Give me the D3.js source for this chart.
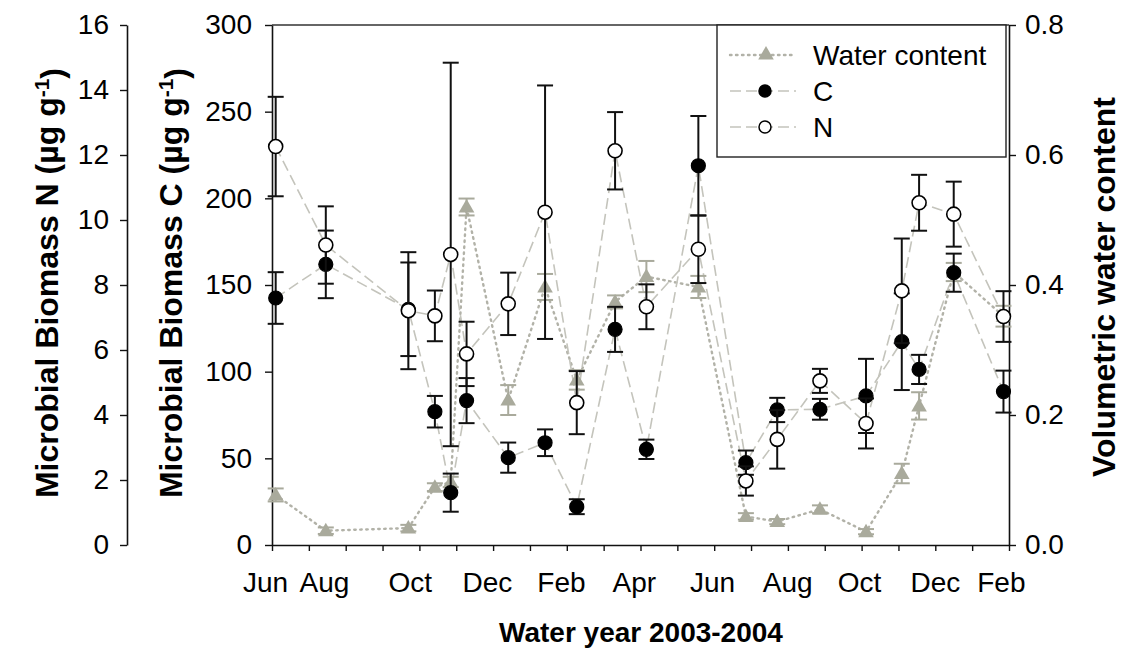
<!DOCTYPE html>
<html>
<head>
<meta charset="utf-8">
<script src="https://cdn.jsdelivr.net/npm/d3@7"></script>
<style>
  body { margin: 0; background: #fff; }
  svg { display: block; font-family: "Liberation Sans", Arial, sans-serif; }
</style>
</head>
<body>
<svg id="chart" width="1125" height="660"></svg>
<script>
// Month axis: 0 = June 2003 ... 20 = February 2005
const monthTickLabels = ["Jun", "Aug", "Oct", "Dec", "Feb", "Apr", "Jun", "Aug", "Oct", "Dec", "Feb"];
const monthLabelAt = [-0.19, 1.41, 3.74, 5.83, 7.84, 9.82, 11.94, 13.98, 15.93, 17.99, 19.78];
const monthTicks = d3.range(0, 21);

// Sampling dates (months since 1 June 2003)
const sampleMonth = [0.10, 1.46, 3.70, 4.42, 4.85, 5.28, 6.41, 7.41, 8.27, 9.31,
                     10.16, 11.57, 12.86, 13.71, 14.87, 16.12, 17.09, 17.56, 18.50, 19.85];

// Microbial biomass C (µg g-1), mean and standard error
const carbon   = [142.5, 161.9, 136.0, 76.9, 30.2, 83.3, 50.4, 59.0, 22.1, 124.4,
                  55.2, 218.8, 47.5, 77.9, 78.3, 86.0, 117.3, 101.3, 157.1, 88.5];
const carbonSE = [14.9, 19.5, 27.0, 9.1, 11.0, 13.0, 8.7, 7.7, 4.3, 13.0,
                  5.6, 28.7, 7.0, 7.0, 6.0, 21.4, 27.9, 8.4, 11.0, 12.1];

// Microbial biomass N (µg g-1), mean and standard error
const nitrogen   = [12.26, 9.23, 7.21, 7.05, 8.94, 5.88, 7.42, 10.24, 4.38, 12.13,
                    7.33, 9.10, 1.97, 3.25, 5.05, 3.74, 7.82, 10.53, 10.18, 7.03];
const nitrogenSE = [1.53, 1.19, 1.80, 0.78, 5.90, 0.99, 0.96, 3.90, 0.97, 1.19,
                    0.69, 1.04, 0.45, 0.90, 0.37, 0.77, 1.61, 0.86, 1.00, 0.78];

// Volumetric water content, mean and standard error
const water   = [0.077, 0.022, 0.026, 0.089, 0.097, 0.520, 0.223, 0.397, 0.254, 0.374,
                 0.413, 0.397, 0.044, 0.036, 0.055, 0.0205, 0.110, 0.214, 0.420, 0.352];
const waterSE = [0.010, 0.005, 0.005, 0.006, 0.008, 0.013, 0.023, 0.020, 0.015, 0.010,
                 0.024, 0.017, 0.005, 0.004, 0.006, 0.004, 0.015, 0.021, 0.014, 0.016];

const cTicks = [0, 50, 100, 150, 200, 250, 300];
const nTicks = [0, 2, 4, 6, 8, 10, 12, 14, 16];
const wTicks = [0, 0.2, 0.4, 0.6, 0.8];

const legendItems = ["Water content", "C", "N"];

// ---- layout ----
const plotLeft = 272, plotRight = 1009, plotTop = 25, plotBottom = 545;
const nAxisX = 127;
const tickFont = 28;

const svg = d3.select("#chart");

const x  = d3.scaleLinear().domain([0, 20]).range([plotLeft, plotRight]);
const yC = d3.scaleLinear().domain([0, 300]).range([plotBottom, plotTop]);
const yN = d3.scaleLinear().domain([0, 16]).range([plotBottom, plotTop]);
const yW = d3.scaleLinear().domain([0, 0.8]).range([plotBottom, plotTop]);

const axisColor = "#111";
const grey = "#a9aa9c";
const lineGrey = "#c4c4bc";

function styleAxis(g) {
  g.selectAll("path.domain").attr("stroke", axisColor).attr("stroke-width", 1.6);
  g.selectAll(".tick line").attr("stroke", axisColor).attr("stroke-width", 1.4);
  g.selectAll(".tick text").attr("fill", "#000").style("font-size", tickFont + "px")
    .style("font-family", '"Liberation Sans", Arial, sans-serif');
}

// top frame line
svg.append("line")
  .attr("x1", x(0)).attr("x2", x(20)).attr("y1", plotTop).attr("y2", plotTop)
  .attr("stroke", "#333").attr("stroke-width", 1.4);

// Left C axis
svg.append("g").attr("transform", `translate(${plotLeft},0)`)
  .call(d3.axisLeft(yC).tickValues(cTicks).tickSize(7).tickSizeOuter(0).tickPadding(13))
  .call(styleAxis);

// Far-left N axis
svg.append("g").attr("transform", `translate(${nAxisX},0)`)
  .call(d3.axisLeft(yN).tickValues(nTicks).tickSize(7).tickSizeOuter(0).tickPadding(11))
  .call(styleAxis);

// Right water-content axis
svg.append("g").attr("transform", `translate(${x(20)},0)`)
  .call(d3.axisRight(yW).tickValues(wTicks).tickFormat(d3.format(".1f"))
        .tickSize(7).tickSizeOuter(0).tickPadding(9))
  .call(styleAxis);

// Bottom month axis: tick marks
svg.append("g").attr("transform", `translate(0,${plotBottom})`)
  .call(d3.axisBottom(x).tickValues(monthTicks).tickFormat("").tickSize(6).tickSizeOuter(0))
  .call(styleAxis);

// Bottom month axis: labels
svg.append("g").attr("transform", `translate(0,${plotBottom})`)
  .call(d3.axisBottom(x).tickValues(monthLabelAt)
        .tickFormat((d, i) => monthTickLabels[i]).tickSize(0).tickPadding(27))
  .call(styleAxis)
  .call(g => g.select("path.domain").remove());

// Axis titles
function rotatedTitle(cx, cy, main, sup) {
  const t = svg.append("text")
    .attr("transform", `translate(${cx},${cy}) rotate(-90)`)
    .attr("text-anchor", "middle")
    .style("font-size", "32px").style("font-weight", "bold").attr("fill", "#000");
  t.append("tspan").text(main);
  if (sup) {
    t.append("tspan").attr("dy", "-0.45em").style("font-size", "21px").text(sup);
    t.append("tspan").attr("dy", "0.45em").text(")");
  }
  return t;
}
rotatedTitle(58, 283, "Microbial Biomass N (µg g", "-1");
rotatedTitle(182, 283, "Microbial Biomass C (µg g", "-1");
rotatedTitle(1115, 287, "Volumetric water content");

svg.append("text")
  .attr("x", 641).attr("y", 642).attr("text-anchor", "middle")
  .style("font-size", "28px").style("font-weight", "bold").attr("fill", "#000")
  .text("Water year 2003-2004");

// ---- series ----
const idx = d3.range(sampleMonth.length);

const wLine = d3.line().x(i => x(sampleMonth[i])).y(i => yW(water[i]));
const cLine = d3.line().x(i => x(sampleMonth[i])).y(i => yC(carbon[i]));
const nLine = d3.line().x(i => x(sampleMonth[i])).y(i => yN(nitrogen[i]));

const lines = svg.append("g").attr("fill", "none");
lines.append("path").attr("d", wLine(idx))
  .attr("stroke", "#b2b2a8").attr("stroke-width", 2.4)
  .attr("stroke-dasharray", "1.5,4.5").attr("stroke-linecap", "round");
lines.append("path").attr("d", cLine(idx))
  .attr("stroke", lineGrey).attr("stroke-width", 1.6).attr("stroke-dasharray", "11,5");
lines.append("path").attr("d", nLine(idx))
  .attr("stroke", lineGrey).attr("stroke-width", 1.6).attr("stroke-dasharray", "11,5");

const capHalf = 8;
function errorBars(vals, errs, scale, color) {
  const g = svg.append("g").attr("stroke", color).attr("stroke-width", 2).attr("fill", "none");
  idx.forEach(i => {
    const cx = x(sampleMonth[i]);
    const y1 = scale(vals[i] + errs[i]), y2 = scale(vals[i] - errs[i]);
    g.append("line").attr("x1", cx).attr("x2", cx).attr("y1", y1).attr("y2", y2);
    g.append("line").attr("x1", cx - capHalf).attr("x2", cx + capHalf).attr("y1", y1).attr("y2", y1);
    g.append("line").attr("x1", cx - capHalf).attr("x2", cx + capHalf).attr("y1", y2).attr("y2", y2);
  });
}

const triangle = d3.symbol().type(d3.symbolTriangle).size(105);

// water content: grey triangles
errorBars(water, waterSE, yW, grey);
svg.append("g").selectAll("path").data(idx).join("path")
  .attr("d", triangle)
  .attr("transform", i => `translate(${x(sampleMonth[i])},${yW(water[i]) + 1})`)
  .attr("fill", grey);

// carbon: filled black circles
errorBars(carbon, carbonSE, yC, "#111");
svg.append("g").selectAll("circle").data(idx).join("circle")
  .attr("cx", i => x(sampleMonth[i])).attr("cy", i => yC(carbon[i])).attr("r", 7)
  .attr("fill", "#000").attr("stroke", "#000").attr("stroke-width", 1.2);

// nitrogen: open circles
errorBars(nitrogen, nitrogenSE, yN, "#111");
svg.append("g").selectAll("circle").data(idx).join("circle")
  .attr("cx", i => x(sampleMonth[i])).attr("cy", i => yN(nitrogen[i])).attr("r", 7)
  .attr("fill", "#fff").attr("stroke", "#000").attr("stroke-width", 1.6);

// ---- legend ----
const lg = svg.append("g");
lg.append("rect").attr("x", 717).attr("y", plotTop).attr("width", 289).attr("height", 132)
  .attr("fill", "#fff").attr("stroke", "#222").attr("stroke-width", 1.4);
const rowY = [55, 91, 127];
legendItems.forEach((name, k) => {
  const y = rowY[k];
  const ln = lg.append("line").attr("x1", 730).attr("x2", 796).attr("y1", y).attr("y2", y).attr("fill", "none");
  if (k === 0) {
    ln.attr("stroke", "#b2b2a8").attr("stroke-width", 2.4)
      .attr("stroke-dasharray", "1.5,4.5").attr("stroke-linecap", "round");
    lg.append("path").attr("d", triangle).attr("transform", `translate(766,${y})`).attr("fill", grey);
  } else {
    ln.attr("stroke", lineGrey).attr("stroke-width", 1.6).attr("stroke-dasharray", "11,5");
    lg.append("circle").attr("cx", 765).attr("cy", y).attr("r", 6)
      .attr("fill", k === 1 ? "#000" : "#fff").attr("stroke", "#000").attr("stroke-width", 1.5);
  }
  lg.append("text").attr("x", 813).attr("y", y).attr("dy", "0.36em")
    .style("font-size", "28px").attr("fill", "#000").text(name);
});
</script>
</body>
</html>
